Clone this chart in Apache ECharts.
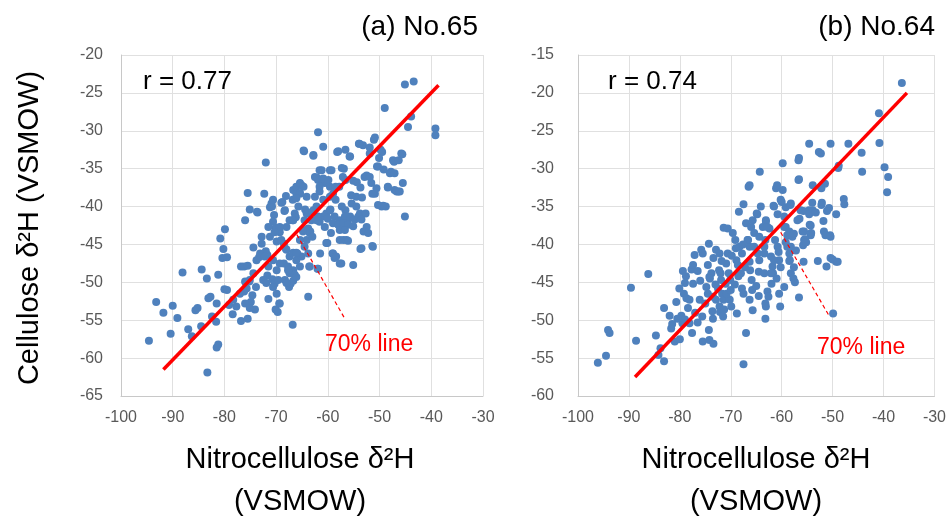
<!DOCTYPE html>
<html>
<head>
<meta charset="utf-8">
<script src="https://cdn.jsdelivr.net/npm/echarts@6/dist/echarts.min.js"></script>
<style>html,body{margin:0;padding:0;background:#fff}#c{width:949px;height:525px}</style>
</head>
<body>
<div id="c"></div>
<script>
// ---- Data ----
const xTicks = [-100, -90, -80, -70, -60, -50, -40, -30];
const yTicksA = [-65, -60, -55, -50, -45, -40, -35, -30, -25, -20];
const yTicksB = [-60, -55, -50, -45, -40, -35, -30, -25, -20, -15];

// Panel (a) No.65 : [nitrocellulose d2H, cellulose d2H]
const pointsA = [
[-94.6,-57.7],[-93.2,-52.6],[-91.8,-54.0],[-90.4,-56.8],[-90.0,-53.1],[-89.1,-54.7],[-88.1,-48.7],[-87.0,-56.2],[-86.3,-57.1],[-85.6,-53.7],
[-85.2,-53.4],[-84.4,-48.3],[-83.4,-49.5],[-84.5,-55.8],[-83.1,-52.1],[-82.7,-51.9],[-83.3,-61.9],[-82.4,-54.5],[-81.6,-55.2],[-81.5,-52.8],
[-81.2,-58.2],[-81.5,-58.6],[-81.2,-49.0],[-80.8,-44.2],[-80.2,-45.6],[-79.9,-43.0],[-80.4,-46.8],[-79.5,-46.7],[-80.0,-50.9],[-79.5,-51.0],
[-79.1,-53.0],[-78.4,-54.2],[-76.8,-47.9],[-76.2,-47.9],[-75.5,-47.8],[-76.8,-55.1],[-75.5,-54.8],[-76.0,-41.8],[-75.5,-38.2],[-75.1,-40.4],
[-73.6,-40.8],[-74.4,-45.4],[-74.1,-53.6],[-74.9,-52.6],[-74.6,-51.7],[-73.9,-50.6],[-75.9,-50.0],[-75.2,-49.9],[-76.2,-51.2],[-72.3,-38.3],
[-72.8,-44.0],[-71.5,-52.2],[-70.9,-39.6],[-71.2,-40.1],[-70.4,-41.1],[-72.0,-34.2],[-68.8,-39.4],[-68.1,-38.6],[-70.1,-42.8],[-69.4,-43.1],
[-68.4,-40.6],[-68.1,-45.6],[-71.7,-49.1],[-70.7,-49.6],[-70.3,-50.2],[-69.7,-53.9],[-70.1,-53.6],[-69.4,-52.8],[-72.0,-45.9],[-71.7,-46.4],
[-73.3,-46.7],[-66.8,-55.6],[-67.5,-50.6],[-67.2,-50.2],[-66.8,-41.8],
[-71.2,-44.0],[-69.9,-44.6],[-69.3,-43.4],[-69.0,-44.4],[-68.5,-44.9],[-68.0,-45.7],[-67.4,-46.6],[-66.7,-46.1],[-66.1,-47.1],[-68.5,-47.5],
[-67.7,-47.9],[-66.7,-48.4],[-67.4,-48.8],[-66.4,-49.0],[-68.3,-49.7],[-66.7,-49.8],[-66.1,-49.3],[-65.4,-47.9],[-65.1,-46.6],[-64.5,-45.3],
[-64.1,-44.4],[-64.8,-43.3],[-63.8,-42.9],[-63.2,-41.8],[-64.1,-40.9],[-64.5,-41.8],[-62.8,-40.5],[-62.2,-40.0],[-61.6,-42.0],[-60.9,-41.3],
[-60.3,-40.9],[-60.9,-39.1],[-59.6,-38.7],[-59.0,-38.3],[-62.5,-38.7],[-61.6,-38.0],[-60.6,-36.9],[-59.6,-37.4],[-61.9,-36.5],[-60.9,-36.3],
[-66.7,-37.8],[-66.1,-37.4],[-65.1,-37.2],[-65.4,-38.3],[-66.8,-39.1],[-66.4,-40.9],[-67.4,-41.8],[-68.0,-42.7],[-69.3,-42.7],[-70.6,-42.0],
[-71.5,-42.7],[-72.8,-44.9],[-73.1,-46.2],[-73.8,-47.1],[-72.2,-46.6],[-71.5,-47.9],[-70.6,-47.1],[-69.9,-48.4],[-69.3,-47.5],[-74.4,-48.8],
[-75.1,-49.7],[-76.0,-49.9],[-75.7,-50.8],[-77.0,-51.5],[-76.0,-52.8],[-75.1,-53.4],[-78.3,-52.3],[-77.7,-53.2],[-72.5,-49.7],[-71.9,-50.1],
[-70.6,-50.6],[-69.6,-49.7],[-69.9,-51.5],[-69.3,-52.8],
[-73.7,-40.7],[-70.8,-40.0],[-70.6,-39.1],[-70.3,-43.4],[-69.0,-39.5],[-68.3,-40.5],[-68.0,-50.1],[-67.7,-48.4],[-66.1,-38.3],[-65.7,-40.0],
[-65.9,-46.2],[-65.4,-36.9],[-64.6,-32.7],[-64.1,-38.7],[-63.8,-51.9],[-63.6,-47.9],[-63.4,-43.3],[-62.8,-33.2],[-62.5,-36.1],[-62.2,-41.8],
[-61.9,-30.2],[-61.9,-48.2],[-61.6,-37.4],[-61.2,-35.2],[-60.9,-32.1],[-60.6,-42.7],[-60.3,-44.8],[-59.9,-36.5],[-59.6,-40.5],[-59.3,-35.2],
[-59.1,-46.2],[-58.7,-46.8],[-58.2,-32.8],[-57.8,-37.4],[-57.4,-47.5],[-56.9,-35.0],[-56.6,-32.5],[-56.4,-44.4],[-56.2,-42.0],[-55.8,-33.4],
[-55.4,-39.6],[-55.1,-47.7],[-54.5,-38.7],[-54.0,-31.7],[-53.8,-40.9],[-53.5,-45.5],[-53.2,-31.9],[-52.9,-36.1],[-52.5,-42.7],[-51.9,-33.0],
[-51.6,-36.9],[-51.3,-45.3],[-51.1,-31.2],[-50.9,-38.3],[-50.6,-37.6],[-50.3,-34.7],[-49.8,-32.5],[-49.6,-40.0],[-49.0,-27.0],[-48.8,-40.0],
[-48.4,-37.4],[-47.8,-35.4],[-47.4,-33.9],[-47.1,-37.8],[-46.4,-38.0],[-45.8,-33.0],[-45.5,-36.9],[-45.1,-41.3],[-45.1,-23.9],[-44.5,-29.5],
[-43.9,-28.1],[-43.4,-23.5],[-39.2,-29.7],[-39.2,-30.6],
[-64.7,-32.6],[-62.8,-33.3],[-58.0,-32.7],[-55.7,-33.4],[-53.9,-31.7],[-50.9,-30.9],[-51.9,-32.2],[-49.5,-32.8],[-50.1,-33.6],[-47.2,-34.1],
[-46.3,-33.9],[-45.6,-33.1],[-50.5,-34.7],[-49.2,-35.1],[-48.0,-35.6],[-47.1,-35.6],[-48.4,-37.5],[-46.7,-38.0],[-46.1,-38.0],[-51.4,-38.3],
[-53.7,-37.5],[-53.4,-38.8],[-55.1,-36.6],[-54.4,-36.8],[-56.6,-36.5],[-57.3,-34.9],[-59.6,-35.2],[-61.6,-35.2],[-62.1,-36.2],[-58.5,-37.4],
[-57.1,-36.1],[-52.5,-35.9],[-51.9,-36.1],[-55.5,-38.5],[-54.5,-40.0],[-52.7,-40.9],[-50.3,-39.8],[-49.3,-39.9],[-57.3,-40.0],[-56.6,-40.5],
[-58.5,-39.1],[-59.5,-40.4],[-64.4,-40.4],[-63.0,-40.7],[-64.7,-37.4],[-65.4,-38.2],[-66.1,-38.9],[-61.9,-41.3],[-60.0,-41.6],[-58.7,-41.3],
[-57.7,-41.8],[-56.7,-41.3],[-55.7,-41.3],[-54.8,-41.7],[-54.1,-41.3],[-53.5,-41.7],[-59.0,-42.2],[-58.0,-42.4],[-57.0,-42.2],[-56.1,-42.4],
[-55.1,-42.6],[-57.7,-43.1],[-56.7,-43.1],[-53.1,-43.3],[-52.2,-43.5],[-59.4,-43.5],[-63.5,-43.5],[-63.0,-44.0],[-64.8,-43.1],[-60.1,-44.8],
[-57.7,-44.4],[-57.0,-44.4],[-56.1,-44.5],[-53.7,-45.6],[-51.4,-45.2],[-61.5,-46.2],[-59.0,-46.2],[-58.4,-46.6],[-57.7,-47.5],[-63.8,-46.2],
[-66.1,-46.1],[-63.5,-47.9],[-62.0,-48.2],[-65.4,-44.4],[-66.2,-41.4],[-66.7,-41.8]
];
const fitA = [[-91.8,-61.5],[-38.6,-24.0]];
const line70A = [[-66.0,-43.7],[-56.8,-54.7]];

// Panel (b) No.64
const pointsB = [
[-96.1,-55.6],[-94.5,-54.7],[-94.1,-51.3],[-93.8,-51.7],[-89.6,-45.7],[-88.6,-52.7],[-86.2,-43.9],[-84.7,-52.0],[-83.8,-53.7],[-84.2,-54.6],
[-83.1,-55.4],[-83.1,-48.4],[-82.0,-49.4],[-81.7,-51.1],[-81.0,-52.8],[-80.0,-52.5],[-80.7,-47.6],[-80.1,-45.8],[-79.4,-43.5],[-79.0,-45.1],
[-79.2,-46.5],[-78.7,-47.1],[-78.1,-47.3],[-79.7,-49.4],[-79.0,-49.9],[-79.5,-50.4],[-78.4,-48.4],[-78.1,-50.4],[-77.6,-51.7],[-77.4,-45.2],
[-77.7,-43.3],[-77.4,-42.7],[-77.1,-41.4],[-76.1,-47.3],[-75.8,-40.7],[-75.5,-41.2],[-75.6,-49.5],[-75.5,-52.8],[-74.3,-39.9],[-74.5,-42.7],
[-74.8,-45.6],[-74.5,-46.5],[-74.2,-44.3],[-73.8,-43.8],[-74.3,-51.3],[-74.2,-52.6],[-73.4,-53.1],[-73.5,-49.8],[-73.5,-46.9],[-72.9,-47.3],
[-73.4,-41.8],[-72.9,-40.7],[-72.2,-41.2],[-72.3,-43.4],[-72.0,-43.8],[-71.9,-44.7],[-71.7,-46.5],[-71.4,-47.3],[-72.2,-48.2],[-72.1,-48.9],
[-71.5,-49.5],[-71.4,-37.8],[-70.6,-37.9],[-70.6,-41.2],[-70.9,-42.5],[-70.4,-43.8],[-70.1,-44.7],[-70.2,-47.3],[-69.9,-48.2],[-70.8,-46.5],
[-69.6,-38.5],[-69.1,-39.4],[-69.0,-40.5],[-68.8,-49.1],[-68.9,-42.1],[-68.6,-42.7],[-68.4,-35.7],[-68.3,-40.3],[-67.8,-41.2],[-68.0,-43.8],
[-67.8,-45.8],[-67.5,-46.5],[-67.5,-34.7],[-67.5,-55.8],[-67.0,-51.7],[-67.0,-37.2],[-66.7,-39.4],[-66.3,-40.3],[-66.5,-32.4],[-66.3,-42.3],
[-66.2,-43.4],[-65.9,-44.7],[-65.8,-46.0],[-66.3,-47.3],[-65.7,-48.7],[-65.7,-36.8],[-65.4,-38.5],[-64.9,-35.9],[-64.7,-41.2],[-64.4,-42.1],
[-64.5,-43.6],[-64.4,-39.0],[-64.3,-30.4],[-64.1,-35.0],[-63.7,-37.7],[-63.4,-40.3],[-63.2,-39.4],[-63.4,-43.8],[-63.2,-47.8],[-63.1,-48.2],
[-63.2,-49.8],[-62.8,-46.2],[-62.6,-46.9],[-63.1,-36.8],[-62.4,-37.9],[-62.1,-41.6],[-61.8,-42.9],[-61.7,-43.8],[-61.5,-35.0],[-61.1,-32.6],
[-61.3,-39.4],[-60.8,-40.3],[-60.6,-41.0],[-60.5,-42.1],[-60.3,-48.2],[-60.2,-34.1],[-59.8,-32.8],[-59.8,-29.3],[-59.5,-45.6],[-59.5,-36.3],
[-59.2,-37.7],[-58.9,-38.8],[-58.9,-40.3],[-58.5,-41.2],[-58.4,-42.1],[-58.2,-43.8],[-58.2,-34.6],[-57.9,-39.0],[-57.7,-44.5],[-57.4,-45.0],
[-56.9,-36.8],[-56.7,-31.5],[-56.7,-28.9],[-56.6,-47.0],[-56.3,-35.5],[-55.9,-38.3],[-55.6,-39.4],[-55.8,-40.1],[-55.7,-42.3],[-54.6,-26.7],
[-54.6,-35.5],[-54.5,-37.4],[-54.3,-38.8],[-53.9,-32.2],[-53.9,-35.5],[-52.9,-42.2],[-52.3,-28.0],[-52.3,-32.4],[-52.1,-34.5],[-51.8,-36.9],
[-51.7,-38.3],[-51.4,-38.8],[-51.5,-32.0],[-51.2,-42.9],[-50.7,-35.2],[-50.4,-39.0],[-50.4,-41.8],[-50.4,-26.7],[-49.9,-49.1],[-49.3,-36.0],
[-49.3,-42.3],[-48.9,-29.9],[-47.8,-34.0],[-47.7,-34.7],[-46.9,-26.7],[-44.3,-27.9],[-44.2,-30.4],[-40.9,-22.7],[-40.8,-26.6],[-39.8,-29.8],
[-39.1,-31.1],[-39.3,-33.1],[-36.4,-18.7],
[-52.7,-27.8],[-56.6,-28.6],[-48.8,-29.6],[-66.3,-32.2],[-60.9,-32.2],[-56.6,-31.4],[-52.2,-32.6],[-60.0,-34.4],[-59.2,-35.1],[-58.3,-34.8],
[-61.6,-34.9],[-54.0,-34.5],[-52.2,-34.8],[-51.1,-35.6],[-55.7,-35.6],[-54.6,-36.0],[-53.3,-35.8],[-56.5,-36.6],[-54.3,-37.5],[-55.6,-38.3],
[-54.2,-38.5],[-50.5,-38.8],[-55.4,-39.3],[-55.2,-39.7],[-50.0,-42.0],[-49.0,-42.3],[-64.8,-36.0],[-63.1,-37.0],[-62.8,-37.7],[-60.8,-36.0],
[-59.5,-37.7],[-58.5,-38.3],[-57.6,-38.6],[-59.2,-39.7],[-58.2,-40.3],[-57.2,-40.8],[-58.5,-42.2],[-57.6,-43.0],[-66.0,-37.7],[-66.6,-39.4],
[-65.4,-40.3],[-63.4,-41.2],[-61.5,-42.1],[-60.2,-43.0],[-62.1,-43.8],
[-74.1,-44.5],[-73.0,-45.3],[-72.5,-45.8],[-71.0,-45.2],[-70.0,-46.0],[-73.6,-48.8],[-71.3,-48.6],[-69.2,-45.3],[-68.5,-44.2],[-67.2,-43.0],
[-67.6,-40.0],[-69.8,-41.5],[-71.8,-42.2],[-76.5,-43.5],[-76.0,-44.8],[-75.0,-47.8],[-77.0,-49.0],[-76.5,-50.3],[-78.8,-44.2],[-80.5,-49.8],
[-81.5,-50.5],[-65.0,-45.5],[-64.5,-46.8],[-62.0,-45.2],[-61.0,-44.5],[-60.5,-46.5]
];
const fitB = [[-88.8,-57.5],[-35.4,-20.0]];
const line70B = [[-60.2,-38.4],[-50.7,-49.4]];

// ---- Chart ----
const FONT = 'Liberation Sans, Arial, sans-serif';
const DOT = '#4f81bd';
const GRIDC = '#e0e0e0';
const AXISC = '#c8c8c8';
const LBL = '#595959';

function xAxisCfg(gi) {
  return {
    type: 'value', gridIndex: gi, min: xTicks[0], max: xTicks[xTicks.length - 1], interval: 10,
    axisLine: { show: true, onZero: false, lineStyle: { color: AXISC, width: 1 } },
    axisTick: { show: false },
    splitLine: { show: true, lineStyle: { color: GRIDC, width: 1 } },
    axisLabel: { color: LBL, fontSize: 16, fontFamily: FONT, margin: 14 }
  };
}
function yAxisCfg(gi, ticks, margin) {
  return {
    type: 'value', gridIndex: gi, min: ticks[0], max: ticks[ticks.length - 1], interval: 5,
    axisLine: { show: true, onZero: false, lineStyle: { color: AXISC, width: 1 } },
    axisTick: { show: false },
    splitLine: { show: true, lineStyle: { color: GRIDC, width: 1 } },
    axisLabel: { color: LBL, fontSize: 16, fontFamily: FONT, margin: margin }
  };
}
function scatter(gi, data) {
  return { type: 'scatter', xAxisIndex: gi, yAxisIndex: gi, data: data, symbolSize: 8,
    itemStyle: { color: DOT, opacity: 1 }, z: 2, silent: true };
}
function fit(gi, data) {
  return { type: 'line', xAxisIndex: gi, yAxisIndex: gi, data: data, symbol: 'none',
    lineStyle: { color: '#ff0000', width: 3.5 }, z: 4, silent: true, animation: false };
}
function dash(gi, data) {
  return { type: 'line', xAxisIndex: gi, yAxisIndex: gi, data: data, symbol: 'none',
    lineStyle: { color: '#ff0000', width: 1.2, type: [4, 3] }, z: 3, silent: true, animation: false };
}
function txt(x, y, s, size, color, align, rot) {
  return { type: 'text', x: x, y: y, rotation: rot || 0, z: 10,
    style: { text: s, fontSize: size, fontFamily: FONT, fill: color, align: align || 'left', verticalAlign: 'middle' } };
}

const chart = echarts.init(document.getElementById('c'), null, { renderer: 'canvas' });
chart.setOption({
  animation: false,
  backgroundColor: '#ffffff',
  grid: [
    { left: 121, top: 55, width: 362, height: 341 },
    { left: 578, top: 55, width: 358, height: 341 }
  ],
  xAxis: [xAxisCfg(0), xAxisCfg(1)],
  yAxis: [yAxisCfg(0, yTicksA, 18), yAxisCfg(1, yTicksB, 24)],
  series: [
    scatter(0, pointsA), fit(0, fitA), dash(0, line70A),
    scatter(1, pointsB), fit(1, fitB), dash(1, line70B)
  ],
  graphic: [
    txt(478, 27, '(a) No.65', 28, '#000', 'right'),
    txt(935, 27, '(b) No.64', 28, '#000', 'right'),
    txt(143, 82, 'r = 0.77', 26, '#000', 'left'),
    txt(608, 82, 'r = 0.74', 26, '#000', 'left'),
    txt(325, 345, '70% line', 23, '#ff0000', 'left'),
    txt(817, 348, '70% line', 23, '#ff0000', 'left'),
    txt(30, 228, 'Cellulose \u03b4\u00b2H (VSMOW)', 29, '#000', 'center', Math.PI / 2),
    txt(300, 460, 'Nitrocellulose \u03b4\u00b2H', 29, '#000', 'center'),
    txt(300, 502, '(VSMOW)', 29, '#000', 'center'),
    txt(756, 460, 'Nitrocellulose \u03b4\u00b2H', 29, '#000', 'center'),
    txt(756, 502, '(VSMOW)', 29, '#000', 'center')
  ]
});
</script>
</body>
</html>
